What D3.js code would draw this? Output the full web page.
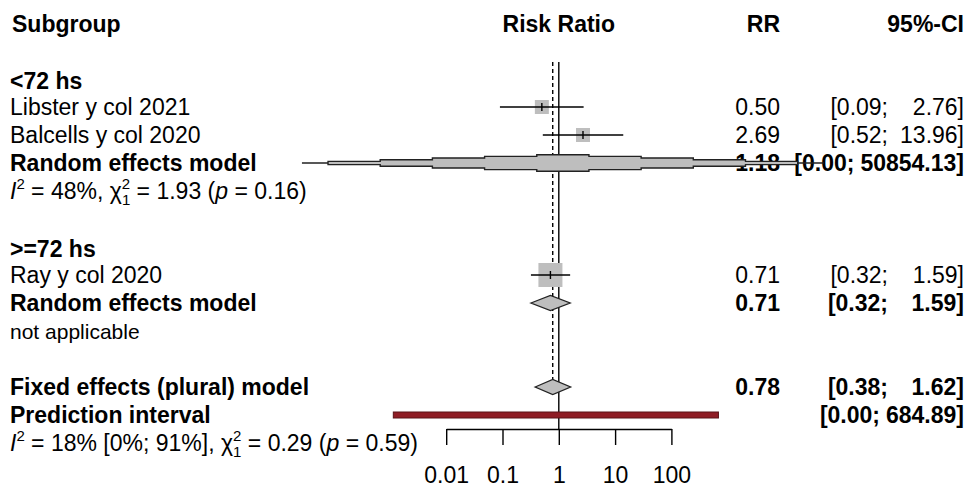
<!DOCTYPE html>
<html>
<head>
<meta charset="utf-8">
<script src="https://cdn.jsdelivr.net/npm/d3@7"></script>
<style>
  html, body { margin: 0; padding: 0; background: #fff; }
  svg { display: block; font-family: "Liberation Sans", Arial, sans-serif; }
  text { white-space: pre; }
</style>
</head>
<body>
<svg id="chart" width="972" height="489"></svg>
<script>
// ---------------- data ----------------
const headerLabels = ["Subgroup", "Risk Ratio", "RR", "95%-CI"];

const subgroupLabels = ["<72 hs", ">=72 hs"];
const subgroupRow = [0, 6];

const studyLabels = ["Libster y col 2021", "Balcells y col 2020", "Ray y col 2020"];
const studyRR = [0.50, 2.69, 0.71];
const studyLower = [0.09, 0.52, 0.32];
const studyUpper = [2.76, 13.96, 1.59];
const studyWeight = [0.34, 0.34, 1.0];
const studyRow = [1, 2, 7];

const pooledLabels = ["Random effects model", "Random effects model", "Fixed effects (plural) model"];
const pooledRR = [1.18, 0.71, 0.78];
const pooledLower = [0.0000274, 0.32, 0.38];
const pooledUpper = [50854.13, 1.59, 1.62];
const pooledRow = [3, 8, 11];

const predLabel = "Prediction interval";
const predLower = 0.00115;
const predUpper = 684.89;
const predRow = 12;

const hetRows = [4, 9, 13];
const hetTexts = [
  {I2: "48%", I2ci: "", Q: "1.93", df: "1", p: "0.16"},
  null,
  {I2: "18%", I2ci: " [0%; 91%]", Q: "0.29", df: "1", p: "0.59"}
];
const naText = "not applicable";

const tickValues = [0.01, 0.1, 1, 10, 100];
const tickLabels = ["0.01", "0.1", "1", "10", "100"];

// ---------------- layout ----------------
const FS = 23;
const svg = d3.select("#chart");
const x = d3.scaleLog().domain([0.01, 100]).range([446.2, 671.4]);
const rowY = d3.scaleLinear().domain([0, 13]).range([87, 451]); // text baselines
const mid = r => rowY(r) - 8;
const leftX = 10, rrX = 780, ciX = 964, ciSemi = 888;
const axisY = 429, lineTop = 62;
const grayFill = "#bebebe";
const fmt = v => v.toFixed(2);

// reference lines
svg.append("line")
  .attr("x1", x(1)).attr("x2", x(1)).attr("y1", lineTop).attr("y2", axisY)
  .attr("stroke", "#000").attr("stroke-width", 1.4);
svg.append("line")
  .attr("x1", x(pooledRR[2])).attr("x2", x(pooledRR[2]))
  .attr("y1", lineTop).attr("y2", mid(pooledRow[2]) - 7)
  .attr("stroke", "#000").attr("stroke-width", 1.4).attr("stroke-dasharray", "4,3");

// header
const hdr = svg.append("g").attr("font-size", FS).attr("font-weight", "bold");
hdr.append("text").attr("x", leftX + 2).attr("y", 32).text(headerLabels[0]);
hdr.append("text").attr("x", x(1)).attr("y", 32).attr("text-anchor", "middle").text(headerLabels[1]);
hdr.append("text").attr("x", rrX).attr("y", 32).attr("text-anchor", "end").text(headerLabels[2]);
hdr.append("text").attr("x", ciX).attr("y", 32).attr("text-anchor", "end").text(headerLabels[3]);

// subgroup labels
subgroupLabels.forEach((s, i) => {
  svg.append("text").attr("x", leftX).attr("y", rowY(subgroupRow[i]) + 2)
    .attr("font-size", FS).attr("font-weight", "bold").text(s);
});

// CI text helper
function ciText(r, lo, hi, bold) {
  const g = svg.append("g").attr("font-size", FS).attr("font-weight", bold ? "bold" : "normal");
  const up = g.append("text").attr("x", ciX).attr("y", rowY(r)).attr("text-anchor", "end")
    .text(fmt(hi) + "]");
  const w = up.node().getComputedTextLength();
  const loEnd = Math.min(ciSemi, ciX - w - 6);
  g.append("text").attr("x", loEnd).attr("y", rowY(r)).attr("text-anchor", "end")
    .text("[" + fmt(lo) + ";");
}

// studies
studyLabels.forEach((s, i) => {
  const r = studyRow[i], y = mid(r);
  svg.append("text").attr("x", leftX).attr("y", rowY(r)).attr("font-size", FS).text(s);
  const sz = 24 * Math.sqrt(studyWeight[i]);
  svg.append("rect")
    .attr("x", x(studyRR[i]) - sz / 2).attr("y", y - sz / 2)
    .attr("width", sz).attr("height", sz).attr("fill", grayFill);
  svg.append("line")
    .attr("x1", x(studyLower[i])).attr("x2", x(studyUpper[i]))
    .attr("y1", y).attr("y2", y).attr("stroke", "#000").attr("stroke-width", 1.4);
  svg.append("line")
    .attr("x1", x(studyRR[i])).attr("x2", x(studyRR[i]))
    .attr("y1", y - 4).attr("y2", y + 4).attr("stroke", "#000").attr("stroke-width", 1.4);
  svg.append("text").attr("x", rrX).attr("y", rowY(r)).attr("text-anchor", "end")
    .attr("font-size", FS).text(fmt(studyRR[i]));
  ciText(r, studyLower[i], studyUpper[i], false);
});

// pooled estimates: text first, shapes afterwards
pooledLabels.forEach((s, i) => {
  const r = pooledRow[i];
  svg.append("text").attr("x", leftX).attr("y", rowY(r)).attr("font-size", FS)
    .attr("font-weight", "bold").text(s);
  svg.append("text").attr("x", rrX).attr("y", rowY(r)).attr("text-anchor", "end")
    .attr("font-size", FS).attr("font-weight", "bold").text(fmt(pooledRR[i]));
  ciText(r, pooledLower[i], pooledUpper[i], true);
});

pooledLabels.forEach((s, i) => {
  const r = pooledRow[i], y = mid(r);
  const xl = x(pooledLower[i]), xu = x(pooledUpper[i]), xc = x(pooledRR[i]);
  if (pooledLower[i] < x.domain()[0]) {
    // very wide diamond, drawn as a sampled (stepped) shape
    const Hd = 16.5, n = 5;
    const c = (xl + xu) / 2, u = (xu - xl) / (2 * n);
    const pts = [];
    pts.push([xl, y]);
    pts.push([c - (n - 0.5) * u, y]);
    for (let k = n - 1; k >= 0; k--) {
      const h = Hd * (1 - k / n) / 2;
      pts.push([c - (k + 0.5) * u, y - h]);
      pts.push([c - (k - 0.5) * u, y - h]);
    }
    for (let k = 1; k < n; k++) {
      const h = Hd * (1 - k / n) / 2;
      pts.push([c + (k - 0.5) * u, y - h]);
      pts.push([c + (k + 0.5) * u, y - h]);
    }
    pts.push([c + (n - 0.5) * u, y]);
    pts.push([xu, y]);
    pts.push([c + (n - 0.5) * u, y]);
    for (let k = n - 1; k >= 1; k--) {
      const h = Hd * (1 - k / n) / 2;
      pts.push([c + (k + 0.5) * u, y + h]);
      pts.push([c + (k - 0.5) * u, y + h]);
    }
    for (let k = 0; k < n; k++) {
      const h = Hd * (1 - k / n) / 2;
      pts.push([c - (k - 0.5) * u, y + h]);
      pts.push([c - (k + 0.5) * u, y + h]);
    }
    pts.push([c - (n - 0.5) * u, y]);
    svg.append("path")
      .attr("d", d3.line()(pts) + "Z")
      .attr("fill", grayFill).attr("stroke", "#222").attr("stroke-width", 1.4)
      .attr("stroke-linejoin", "miter");
  } else {
    const Hd = 15;
    svg.append("path")
      .attr("d", d3.line()([[xl, y], [xc, y - Hd / 2], [xu, y], [xc, y + Hd / 2]]) + "Z")
      .attr("fill", grayFill).attr("stroke", "#222").attr("stroke-width", 1.3);
  }
});

// prediction interval
svg.append("text").attr("x", leftX).attr("y", rowY(predRow)).attr("font-size", FS)
  .attr("font-weight", "bold").text(predLabel);
ciText(predRow, predLower, predUpper, true);
svg.append("rect")
  .attr("x", x(predLower)).attr("y", mid(predRow) - 3)
  .attr("width", x(predUpper) - x(predLower)).attr("height", 6)
  .attr("fill", "#8f1d25").attr("stroke", "#5a1418").attr("stroke-width", 1);

// heterogeneity lines
hetRows.forEach((r, i) => {
  const h = hetTexts[i];
  const t = svg.append("text").attr("x", leftX).attr("y", rowY(r)).attr("font-size", FS);
  if (!h) { t.attr("font-size", 21).text(naText); return; }
  t.append("tspan").attr("font-style", "italic").text("I");
  t.append("tspan").attr("font-size", 15).attr("dy", -10).text("2");
  t.append("tspan").attr("dy", 10).text(" = " + h.I2 + h.I2ci + ", χ");
  t.append("tspan").attr("font-size", 15).attr("dy", -10).text("2");
  t.append("tspan").attr("font-size", 15).attr("dx", -8.3).attr("dy", 16).text(h.df);
  t.append("tspan").attr("dy", -6).text(" = " + h.Q + " (");
  t.append("tspan").attr("font-style", "italic").text("p");
  t.append("tspan").text(" = " + h.p + ")");
});

// axis
const axis = d3.axisBottom(x).tickValues(tickValues)
  .tickFormat((d, i) => tickLabels[i]).tickSize(16).tickSizeOuter(0).tickPadding(21.7);
const ag = svg.append("g").attr("transform", `translate(0,${axisY})`).call(axis);
ag.selectAll("path, line").attr("stroke", "#000").attr("stroke-width", 1.4);
ag.selectAll("text").attr("font-size", FS).attr("fill", "#000")
  .attr("font-family", '"Liberation Sans", Arial, sans-serif');
</script>
</body>
</html>
